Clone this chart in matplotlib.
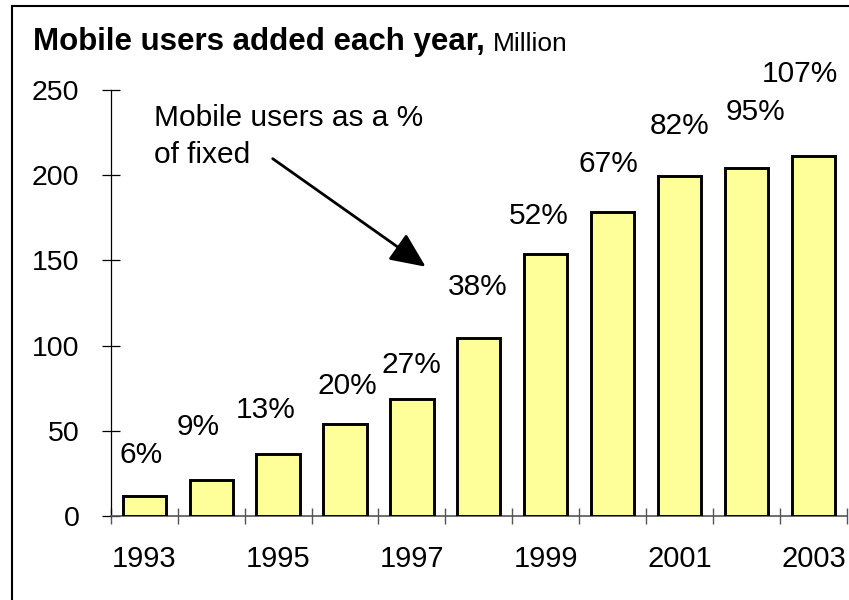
import matplotlib
matplotlib.use("Agg")
import matplotlib.pyplot as plt
from matplotlib.patches import Rectangle, ArrowStyle

plt.rcParams['font.family'] = ['Liberation Sans', 'DejaVu Sans']

# Data
years = [1993, 1994, 1995, 1996, 1997, 1998, 1999, 2000, 2001, 2002, 2003]
users_added = [11.5, 21, 36.4, 54, 68.7, 104.6, 153.8, 178.6, 199.7, 204.4, 211.4]
pct_of_fixed = ["6%", "9%", "13%", "20%", "27%", "38%", "52%", "67%", "82%", "95%", "107%"]
yticks = [0, 50, 100, 150, 200, 250]
xtick_years = [1993, 1995, 1997, 1999, 2001, 2003]

# Layout of percentage labels (offset in category units, height in data units)
label_dx = [-0.05, -0.2, -0.19, 0.04, -0.01, -0.01, -0.1, -0.07, 0.0, 0.14, -0.2]
label_y = [35.8, 52.4, 62.3, 76.3, 88.8, 134.5, 176.3, 206.7, 229, 236.8, 259.3]

W, H = 849, 600
fig = plt.figure(figsize=(W / 100, H / 100), dpi=100)
ax = fig.add_axes([110.7 / W, 1 - 516 / H, (847 - 110.7) / W, (516 - 90) / H])

xs = list(range(len(years)))
ax.bar(xs, users_added, width=0.645, color='#FFFF99', edgecolor='black', linewidth=2.1, zorder=3)

for i, (lab, dx, ly) in enumerate(zip(pct_of_fixed, label_dx, label_y)):
    ax.text(i + dx, ly, lab, ha='center', va='center', fontsize=21.5, color='black')

ax.set_xlim(-0.5, len(years) - 0.5)
ax.set_ylim(0, 250)
ax.set_yticks(yticks)
ax.set_yticklabels([str(v) for v in yticks], fontsize=20.5)

# x ticks at category boundaries, labels under alternate bars
ax.set_xticks([i - 0.5 for i in range(len(years) + 1)])
ax.set_xticklabels([])
ax.set_xticks([years.index(y) for y in xtick_years], minor=True)
ax.set_xticklabels([str(y) for y in xtick_years], minor=True, fontsize=21)
ax.tick_params(axis='x', which='minor', length=0, pad=21)
ax.tick_params(axis='x', which='major', direction='inout', length=11.5, width=1, color='#555555')
ax.tick_params(axis='y', direction='inout', length=13, width=0.9, color='black', pad=16)

for s in ['top', 'right']:
    ax.spines[s].set_visible(False)
ax.spines['left'].set_color('black')
ax.spines['left'].set_linewidth(0.9)
ax.spines['bottom'].set_color('#555555')
ax.spines['bottom'].set_linewidth(1.2)

# Annotation
ax.text(0.14, 222.5, "Mobile users as a %\nof fixed", ha='left', va='center',
        fontsize=21.5, linespacing=1.4)
ax.annotate("", xy=(4.205, 146.3), xytext=(1.92, 209.7),
            arrowprops=dict(arrowstyle=ArrowStyle('-|>', head_length=0.4, head_width=0.18),
                            mutation_scale=54, lw=2, color='black', shrinkA=0, shrinkB=0),
            annotation_clip=False)

# Title
t1 = fig.text(33 / W, 1 - 50 / H, "Mobile users added each year,", fontsize=22.5,
              fontweight='bold', ha='left', va='baseline')
fig.canvas.draw()
bb = t1.get_window_extent()
fig.text((bb.x1 + 8) / W, 1 - 51 / H, "Million", fontsize=19, ha='left', va='baseline')

# Figure frame
fig.add_artist(Rectangle((12 / W, -0.1), 1.2, (H - 6) / H + 0.1, transform=fig.transFigure,
                         fill=False, edgecolor='black', linewidth=1.5))

fig.savefig("out.png", dpi=100)
